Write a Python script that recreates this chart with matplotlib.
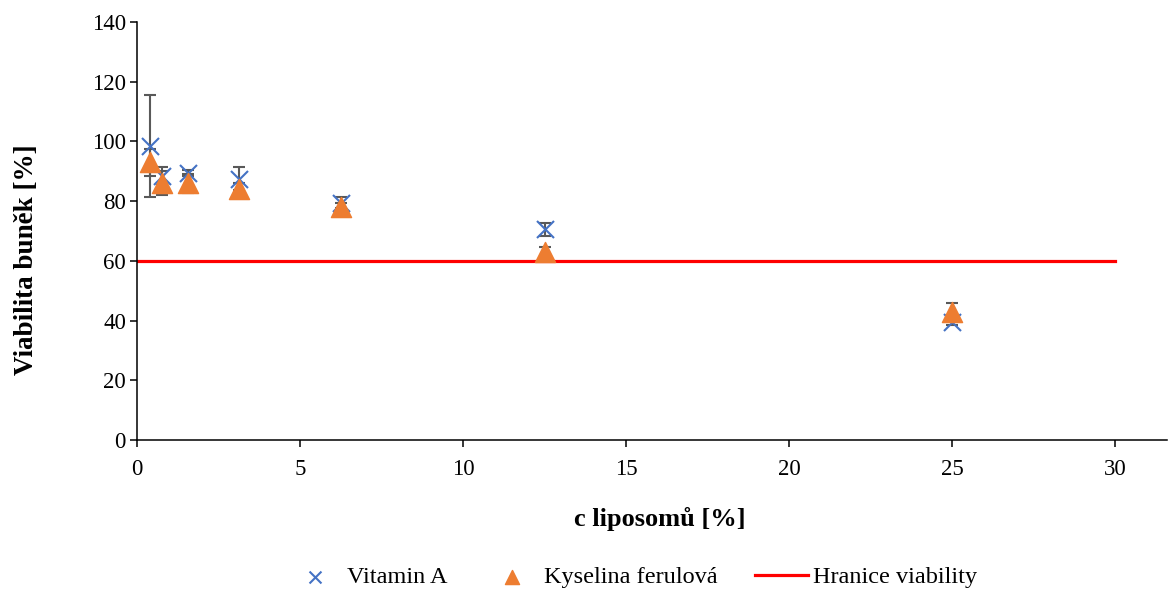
import matplotlib.pyplot as plt
import numpy as np

# concentration of liposomes [%]
conc = [0.39, 0.78, 1.56, 3.125, 6.25, 12.5, 25]

vit_a = [98.5, 88.5, 89.5, 87.5, 79.5, 70.5, 39.5]
vit_a_err = [17.0, 3.0, 1.0, 3.8, 2.0, 2.3, 1.0]

ferul = [93.0, 86.0, 86.0, 84.0, 78.0, 63.0, 43.0]
ferul_err = [4.5, 4.0, 3.2, 2.0, 1.5, 1.7, 3.0]

limit_x = [0, 30]
limit_y = [60, 60]

plt.rcParams['font.family'] = ['Liberation Serif', 'DejaVu Serif']

fig = plt.figure(figsize=(11.71, 5.89), dpi=100)
ax = fig.add_axes([0.117, 0.253, 0.880, 0.710])

ax.errorbar(conc, vit_a, yerr=vit_a_err, fmt='none', ecolor='#595959',
            elinewidth=1.5, capsize=4.5, capthick=1.5, zorder=2)
ax.errorbar(conc, ferul, yerr=ferul_err, fmt='none', ecolor='#595959',
            elinewidth=1.5, capsize=4.5, capthick=1.5, zorder=2)

ax.plot(limit_x, limit_y, color='#FF0000', linewidth=2.3, zorder=1,
        label='Hranice viability')
ax.scatter(conc, vit_a, marker='x', s=150, color='#4472C4', linewidths=1.5,
           zorder=3, label='Vitamin A')
ax.scatter(conc, ferul, marker='^', s=210, color='#ED7D31', zorder=4,
           label='Kyselina ferulová')

ax.set_xlim(0, 31.6)
ax.set_ylim(0, 140)
ax.set_xticks([0, 5, 10, 15, 20, 25, 30])
ax.set_yticks(np.arange(0, 141, 20))

for s in ['top', 'right']:
    ax.spines[s].set_visible(False)
for s in ['left', 'bottom']:
    ax.spines[s].set_linewidth(1.1)
    ax.spines[s].set_color('black')
ax.tick_params(axis='both', direction='out', length=5, width=1.1,
               labelsize=16.5)
ax.tick_params(axis='y', pad=3)
ax.tick_params(axis='x', pad=9)

ax.set_xlabel('c liposomů [%]', fontsize=19, fontweight='bold')
ax.set_ylabel('Viabilita buněk [%]', fontsize=19.5, fontweight='bold')
ax.xaxis.set_label_coords(0.507, -0.16)
ax.yaxis.set_label_coords(-0.095, 0.43)

handles, labels = ax.get_legend_handles_labels()
order = [1, 2, 0]
fig.legend([handles[i] for i in order], [labels[i] for i in order],
           loc='center', bbox_to_anchor=(633 / 1171, 1 - 577 / 589), ncol=3,
           frameon=False, fontsize=17.5, handlelength=2.2, handletextpad=0.2,
           columnspacing=1.55, markerscale=0.7, borderpad=0)

fig.savefig('out.png', dpi=100)
